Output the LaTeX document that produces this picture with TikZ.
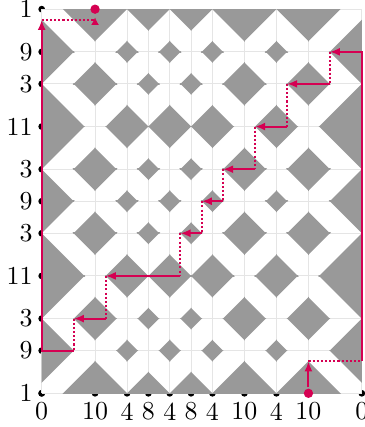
\documentclass[tikz,border=0pt]{standalone}
\usetikzlibrary{arrows.meta,calc}
\definecolor{crim}{RGB}{213,0,82}
\definecolor{tilegray}{gray}{0.6}
\definecolor{gridgray}{gray}{0.9}
\begin{document}
\begin{tikzpicture}[x=4.118pt,y=4.118pt,
  tickdot/.style={circle,fill=black,inner sep=0pt,minimum size=2.6pt},
  xlab/.style={anchor=north},
  ylab/.style={anchor=east},
  gridline/.style={gridgray,line width=0.4pt},
  pathline/.style={crim,line width=0.8pt},
  dottedline/.style={crim,line width=0.8pt,dash pattern=on 0.8pt off 0.8pt},
  arrowline/.style={pathline,-{Latex[length=3.9pt,width=3.1pt]}},
  endpoint/.style={circle,inner sep=0pt,minimum size=4.4pt},
  ]
\useasboundingbox (-3.908,-3.158) rectangle (30.206,36.86);
\def\XS{{0,5,8,10,12,14,16,19,22,25,30}}
\def\GS{{0,10,4,8,4,8,4,10,4,10,0}}
\def\YS{{0,4,7,11,15,18,21,25,29,32,36}}
\def\KS{{1,9,3,11,3,9,3,11,3,9,1}}

% ticks and labels
\foreach \xv/\lab [count=\i from 0] in {0/0,5/10,8/4,10/8,12/4,14/8,16/4,19/10,22/4,25/10,30/0} {
  \node[tickdot] (xt\i) at (\xv,0) {};
  \node[xlab] (xl\i) at (\xv,0) {\lab};
}
\foreach \yv/\lab [count=\i from 0] in {0/1,4/9,7/3,11/11,15/3,18/9,21/3,25/11,29/3,32/9,36/1} {
  \node[tickdot] (yt\i) at (0,\yv) {};
  \node[ylab] (yl\i) at (0,\yv) {\lab};
}

% field
\fill[white] (0,0) rectangle (30,36);
\foreach \xv in {0,5,8,10,12,14,16,19,22,25,30}
  \draw[gridline] (\xv,0) -- (\xv,36);
\foreach \yv in {0,4,7,11,15,18,21,25,29,32,36}
  \draw[gridline] (0,\yv) -- (30,\yv);

% gray region |g(x)-k(y)| > 3
\begin{scope}
\clip (0,0) rectangle (30,36);
\foreach \i in {0,...,9} {
 \foreach \j in {0,...,9} {
  \pgfmathsetmacro\xa{\XS[\i]}
  \pgfmathsetmacro\xb{\XS[\i+1]}
  \pgfmathsetmacro\ga{\GS[\i]}
  \pgfmathsetmacro\gb{\GS[\i+1]}
  \pgfmathsetmacro\ya{\YS[\j]}
  \pgfmathsetmacro\yb{\YS[\j+1]}
  \pgfmathsetmacro\ka{\KS[\j]}
  \pgfmathsetmacro\kb{\KS[\j+1]}
  \pgfmathsetmacro\sx{(\gb-\ga)/(2*(\xb-\xa))}
  \pgfmathsetmacro\sy{(\kb-\ka)/(2*(\yb-\ya))}
  \pgfmathsetmacro\lp{(3-(\ga-\ka))/4}
  \pgfmathsetmacro\lm{(-3-(\ga-\ka))/4}
  \begin{scope}
   \clip ({\xa-0.03},{\ya-0.03}) rectangle ({\xb+0.03},{\yb+0.03});
   \fill[tilegray]
     ({\xa+(\lp)*(\sx)+40*(\sy)},{\ya-(\lp)*(\sy)+40*(\sx)})
     -- ({\xa+(\lp)*(\sx)-40*(\sy)},{\ya-(\lp)*(\sy)-40*(\sx)})
     -- ++({40*(\sx)},{-40*(\sy)})
     -- ++({80*(\sy)},{80*(\sx)}) -- cycle;
   \fill[tilegray]
     ({\xa+(\lm)*(\sx)+40*(\sy)},{\ya-(\lm)*(\sy)+40*(\sx)})
     -- ({\xa+(\lm)*(\sx)-40*(\sy)},{\ya-(\lm)*(\sy)-40*(\sx)})
     -- ++({-40*(\sx)},{40*(\sy)})
     -- ++({80*(\sy)},{80*(\sx)}) -- cycle;
  \end{scope}
 }
}
\end{scope}

% path
\node[endpoint] (start) at (25,0) {};
\node[endpoint,minimum size=5.8pt] (finish) at (5,36) {};
\coordinate (p1) at (25,3);
\coordinate (p2) at (30,3);
\coordinate (p3) at (30,32);
\coordinate (p4) at (27,32);
\coordinate (p5) at (27,29);
\coordinate (p6) at (23,29);
\coordinate (p7) at (23,25);
\coordinate (p8) at (20,25);
\coordinate (p9) at (20,21);
\coordinate (p10) at (17,21);
\coordinate (p11) at (17,18);
\coordinate (p12) at (15,18);
\coordinate (p13) at (15,15);
\coordinate (p14) at (13,15);
\coordinate (p15) at (13,11);
\coordinate (p16) at (6,11);
\coordinate (p17) at (6,7);
\coordinate (p18) at (3,7);
\coordinate (p19) at (3,4);
\coordinate (p20) at (0,4);
\coordinate (p21) at (0,35);
\coordinate (p22) at (5,35);
\coordinate (p23) at (5,34.55);

\draw[arrowline] (start) -- (p1);
\draw[dottedline] (p1) -- (p2);
\draw[arrowline] (p2) -- (p3) -- (p4);
\draw[dottedline] (p4) -- (p5);
\draw[arrowline] (p5) -- (p6);
\draw[dottedline] (p6) -- (p7);
\draw[arrowline] (p7) -- (p8);
\draw[dottedline] (p8) -- (p9);
\draw[arrowline] (p9) -- (p10);
\draw[dottedline] (p10) -- (p11);
\draw[arrowline] (p11) -- (p12);
\draw[dottedline] (p12) -- (p13);
\draw[arrowline] (p13) -- (p14);
\draw[dottedline] (p14) -- (p15);
\draw[arrowline] (p15) -- (p16);
\draw[dottedline] (p16) -- (p17);
\draw[arrowline] (p17) -- (p18);
\draw[dottedline] (p18) -- (p19);
\draw[arrowline] (p19) -- (p20) -- (p21);
\draw[dottedline] (p21) -- (p22);
\draw[pathline,-{Latex[length=3pt,width=3.1pt]}] (p23) -- (finish);
\fill[crim] (start.center) circle (1.8pt);
\fill[crim] (finish.center) circle (1.8pt);
\end{tikzpicture}
\end{document}
